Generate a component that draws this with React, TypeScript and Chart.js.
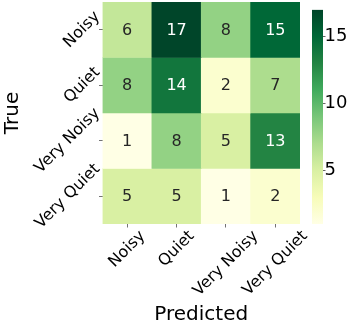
import React, { useEffect, useRef } from 'react';
import { Chart, registerables } from 'chart.js';

Chart.register(...registerables);

const predictedLabels = ['Noisy', 'Quiet', 'Very Noisy', 'Very Quiet'];
const trueLabels = ['Noisy', 'Quiet', 'Very Noisy', 'Very Quiet'];
const rowNoisy = [6, 17, 8, 15];
const rowQuiet = [8, 14, 2, 7];
const rowVeryNoisy = [1, 8, 5, 13];
const rowVeryQuiet = [5, 5, 1, 2];
const matrix = [rowNoisy, rowQuiet, rowVeryNoisy, rowVeryQuiet];
const colorbarTicks = [5, 10, 15];
const vMin = 1;
const vMax = 17;
const xTitle = 'Predicted';
const yTitle = 'True';

const FONT = 'DejaVu Sans';
const YLGN = ['#ffffe5', '#f7fcb9', '#d9f0a3', '#addd8e', '#78c679', '#41ab5d', '#238443', '#006837', '#004529'];

function hexToRgb(h: string) {
  return [parseInt(h.slice(1, 3), 16), parseInt(h.slice(3, 5), 16), parseInt(h.slice(5, 7), 16)];
}
function cmapRgb(t: number) {
  const c = Math.max(0, Math.min(1, t)) * (YLGN.length - 1);
  const i = Math.min(YLGN.length - 2, Math.floor(c));
  const f = c - i;
  const a = hexToRgb(YLGN[i]);
  const b = hexToRgb(YLGN[i + 1]);
  return a.map((v, k) => Math.round(v + (b[k] - v) * f));
}
function cmap(v: number) {
  const [r, g, b] = cmapRgb((v - vMin) / (vMax - vMin));
  return `rgb(${r},${g},${b})`;
}
function textColorFor(v: number) {
  const rgb = cmapRgb((v - vMin) / (vMax - vMin)).map((x) => {
    const c = x / 255;
    return c <= 0.03928 ? c / 12.92 : Math.pow((c + 0.055) / 1.055, 2.4);
  });
  const lum = 0.2126 * rgb[0] + 0.7152 * rgb[1] + 0.0722 * rgb[2];
  return lum > 0.408 ? '#262626' : '#ffffff';
}

const heatLabels = {
  id: 'heatLabels',
  afterDraw(chart: any) {
    const { ctx, chartArea, scales } = chart;
    const xs = scales.x;
    const ys = scales.y;
    ctx.save();
    // cell annotations
    ctx.font = `16px "${FONT}"`;
    ctx.textAlign = 'center';
    ctx.textBaseline = 'middle';
    matrix.forEach((row, r) => {
      row.forEach((v, c) => {
        ctx.fillStyle = textColorFor(v);
        ctx.fillText(String(v), xs.getPixelForTick(c), ys.getPixelForValue(r + 0.5) + 1);
      });
    });
    // rotated tick labels
    ctx.fillStyle = '#000';
    const h = 16 * 1.164;
    predictedLabels.forEach((lab, i) => {
      const w = ctx.measureText(lab).width;
      const b = (w + h) * Math.SQRT1_2;
      const cx = xs.getPixelForTick(i);
      const cy = chartArea.bottom + 3 + b / 2;
      ctx.save();
      ctx.translate(cx, cy);
      ctx.rotate(-Math.PI / 4);
      ctx.fillText(lab, 0, 0);
      ctx.restore();
    });
    trueLabels.forEach((lab, i) => {
      const w = ctx.measureText(lab).width;
      const b = (w + h) * Math.SQRT1_2;
      const cx = chartArea.left + 1.5 - b / 2;
      const cy = ys.getPixelForValue(i + 0.5);
      ctx.save();
      ctx.translate(cx, cy);
      ctx.rotate(-Math.PI / 4);
      ctx.fillText(lab, 0, 0);
      ctx.restore();
    });
    // axis titles
    ctx.font = `20px "${FONT}"`;
    ctx.textBaseline = 'alphabetic';
    ctx.fillText(xTitle, (chartArea.left + chartArea.right) / 2, 320);
    ctx.save();
    ctx.translate(18.3, (chartArea.top + chartArea.bottom) / 2);
    ctx.rotate(-Math.PI / 2);
    ctx.fillText(yTitle, 0, 0);
    ctx.restore();
    ctx.restore();
  },
};

export default function App() {
  const heatRef = useRef<HTMLCanvasElement>(null);
  const cbRef = useRef<HTMLCanvasElement>(null);

  useEffect(() => {
    Chart.defaults.font.family = FONT;
    const tickGrid = {
      drawOnChartArea: false,
      drawTicks: true,
      tickLength: 3.5,
      color: 'rgba(0,0,0,0.55)',
      lineWidth: 1,
      offset: false,
    };
    const heat = new Chart(heatRef.current!, {
      type: 'bar',
      data: {
        labels: predictedLabels,
        datasets: matrix.map((row, r) => ({
          label: trueLabels[r],
          data: row.map(() => [r, r + 1]),
          backgroundColor: row.map((v) => cmap(v)),
          borderWidth: 0,
          grouped: false,
          barPercentage: 1,
          categoryPercentage: 1,
        })) as any,
      },
      options: {
        responsive: false,
        animation: false,
        layout: { padding: { top: 2, right: 63, left: 0, bottom: 0 } },
        plugins: { legend: { display: false }, tooltip: { enabled: false } },
        scales: {
          x: {
            type: 'category',
            grid: tickGrid as any,
            border: { display: false },
            ticks: { display: false },
            afterFit: (s: any) => {
              s.height = 103;
            },
          },
          y: {
            type: 'linear',
            min: 0,
            max: 4,
            reverse: true,
            grid: tickGrid as any,
            border: { display: false },
            ticks: { display: false },
            afterBuildTicks: (s: any) => {
              s.ticks = trueLabels.map((_, i) => ({ value: i + 0.5 }));
            },
            afterFit: (s: any) => {
              s.width = 102.5;
            },
          },
        },
      },
      plugins: [heatLabels],
    });

    const cb = new Chart(cbRef.current!, {
      type: 'bar',
      data: {
        labels: ['cb'],
        datasets: [
          {
            data: [[vMin, vMax]] as any,
            backgroundColor: (ctx: any) => {
              const chart = ctx.chart;
              if (!chart.chartArea) return YLGN[0];
              const y = chart.scales.y;
              const g = chart.ctx.createLinearGradient(0, y.getPixelForValue(vMin), 0, y.getPixelForValue(vMax));
              YLGN.forEach((c, i) => g.addColorStop(i / (YLGN.length - 1), c));
              return g;
            },
            borderWidth: 0,
            barPercentage: 1,
            categoryPercentage: 1,
          },
        ],
      },
      options: {
        responsive: false,
        animation: false,
        layout: { padding: { top: 2, left: 12, right: 0, bottom: 103 } },
        plugins: { legend: { display: false }, tooltip: { enabled: false } },
        scales: {
          x: { display: false },
          y: {
            type: 'linear',
            position: 'right',
            min: vMin,
            max: vMax,
            border: { display: false },
            grid: { drawOnChartArea: false, tickLength: 2.5, color: 'rgba(0,0,0,0.6)' },
            ticks: { color: '#000', font: { size: 18, family: FONT }, padding: -1 },
            afterBuildTicks: (s: any) => {
              s.ticks = colorbarTicks.map((v) => ({ value: v }));
            },
            afterFit: (s: any) => {
              s.width = 40;
            },
          },
        },
      },
    });

    return () => {
      heat.destroy();
      cb.destroy();
    };
  }, []);

  return (
    <div style={{ position: 'fixed', left: 0, top: 0, width: 363, height: 327, background: '#fff' }}>
      <canvas ref={heatRef} width={363} height={327} style={{ position: 'absolute', left: 0, top: 0, width: 363, height: 327 }} />
      <canvas ref={cbRef} width={63} height={327} style={{ position: 'absolute', left: 300, top: 0, width: 63, height: 327 }} />
    </div>
  );
}
